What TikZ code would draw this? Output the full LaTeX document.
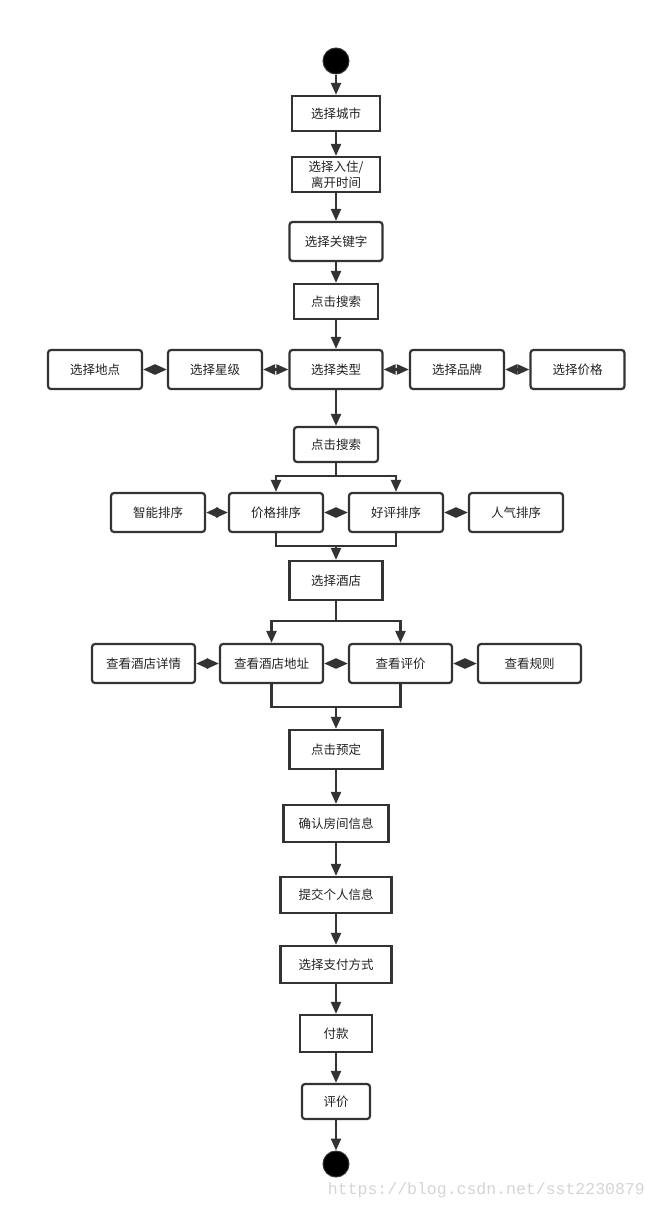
\documentclass[tikz,border=0pt]{standalone}
\usepackage{fontspec}
\newfontfamily\cjk{Noto Sans CJK SC}
\newfontfamily\markfont{Liberation Mono}
\usetikzlibrary{arrows.meta}

\definecolor{line}{HTML}{333333}
\definecolor{ink}{HTML}{222222}
\definecolor{wm}{HTML}{D4D4D4}

\tikzstyle{act}=[rectangle, draw=line, line width=2.2pt, text=ink,
                 font=\cjk\fontsize{12.5}{15}\selectfont, align=center,
                 inner sep=0pt]
\tikzstyle{actr}=[act, rounded corners=3pt]
\tikzstyle{dot}=[circle, fill=black, draw=line, line width=1pt,
                 minimum size=26pt, inner sep=0pt]

\begin{document}
\begin{tikzpicture}[x=1pt, y=-1pt, >={Triangle[length=12pt, width=10pt]}]
  \useasboundingbox (0, 0) rectangle (656, 1210);

  %%%%%%%%%%%%%%%%%%%%%%%%%%%%%%
  %%%%%%%%%%%%%%%%%%%%%%%%%%%%%%
  % booking flow

  %%%%%%%%%%%%%%%%%%%%%%%%%%%%%%
  % nodes
  % search
  \node (start) at (336, 61) [dot] {};

  \node (city) at (336, 113.5) [act, minimum width=88, minimum height=35] {选择城市};

  \node (time) at (336, 174.5) [act, minimum width=88, minimum height=35] {选择入住/\\[0.5pt]离开时间};

  \node (key) at (336, 241.5) [actr, minimum width=93, minimum height=39] {选择关键字};

  \node (search_a) at (336, 301.5) [act, minimum width=84, minimum height=35] {点击搜索};

  % filters
  \node (loc) at (95, 369.5) [actr, minimum width=94, minimum height=39] {选择地点};
  \node (star) at (215, 369.5) [actr, minimum width=94, minimum height=39] {选择星级};
  \node (type) at (336, 369.5) [actr, minimum width=93, minimum height=39] {选择类型};
  \node (brand) at (457, 369.5) [actr, minimum width=94, minimum height=39] {选择品牌};
  \node (price) at (577.5, 369.5) [actr, minimum width=94, minimum height=39] {选择价格};

  \node (search_b) at (336, 444.5) [actr, minimum width=84, minimum height=35] {点击搜索};

  % sorting
  \node (smart) at (158, 512.5) [actr, minimum width=94, minimum height=39] {智能排序};
  \node (psort) at (276, 512.5) [actr, minimum width=94, minimum height=39] {价格排序};
  \node (rate) at (396, 512.5) [actr, minimum width=94, minimum height=39] {好评排序};
  \node (pop) at (516, 512.5) [actr, minimum width=94, minimum height=39] {人气排序};

  \node (hotel) at (336, 580.5) [act, minimum width=93, minimum height=39] {选择酒店};

  % hotel info
  \node (detail) at (143.5, 663.5) [actr, minimum width=103, minimum height=39] {查看酒店详情};
  \node (addr) at (271.5, 663.5) [actr, minimum width=103, minimum height=39] {查看酒店地址};
  \node (review) at (400.5, 663.5) [actr, minimum width=103, minimum height=39] {查看评价};
  \node (rule) at (529.5, 663.5) [actr, minimum width=103, minimum height=39] {查看规则};

  % order
  \node (book) at (336, 749.5) [act, minimum width=93, minimum height=39] {点击预定};

  \node (room) at (336, 823.5) [act, minimum width=105, minimum height=37] {确认房间信息};

  \node (info) at (336, 895) [act, minimum width=111, minimum height=36] {提交个人信息};

  \node (way) at (336, 964.5) [act, minimum width=111, minimum height=37] {选择支付方式};

  \node (pay) at (336, 1033.5) [act, minimum width=72, minimum height=37] {付款};

  \node (comment) at (336, 1101.5) [actr, minimum width=68, minimum height=35] {评价};

  \node (end) at (336, 1164) [dot] {};

  \node (mark) at (645, 1190) [anchor=east, text=wm, font=\markfont\fontsize{16.5}{18}\selectfont, inner sep=0pt] {https://blog.csdn.net/sst2230879};

  %%%%%%%%%%%%%%%%%%%%%%%%%%%%%%
  % forks and joins
  \coordinate (fork_a) at (336, 476);
  \coordinate (join_a) at (336, 546);
  \coordinate (fork_b) at (336, 621);
  \coordinate (join_b) at (336, 707);

  %%%%%%%%%%%%%%%%%%%%%%%%%%%%%%
  % links
  % main line
  \draw [->, line width=2.2, draw=line] (start) to (city);

  \draw [->, line width=2.2, draw=line] (city) to (time);

  \draw [->, line width=2.2, draw=line] (time) to (key);

  \draw [->, line width=2.2, draw=line] (key) to (search_a);

  \draw [->, line width=2.2, draw=line] (search_a) to (type);

  \draw [->, line width=2.2, draw=line] (type) to (search_b);

  % sorting
  \draw [-, line width=2.2, draw=line] (search_b) to (fork_a);
  \draw [->, line width=2.2, draw=line] (fork_a) -| (psort);
  \draw [->, line width=2.2, draw=line] (fork_a) -| (rate);
  \draw [-, line width=2.2, draw=line] (psort) |- (join_a);
  \draw [-, line width=2.2, draw=line] (rate) |- (join_a);
  \draw [->, line width=2.2, draw=line] (join_a) to (hotel);

  % hotel info
  \draw [-, line width=2.2, draw=line] (hotel) to (fork_b);
  \draw [->, line width=2.2, draw=line] (fork_b) -| (addr);
  \draw [->, line width=2.2, draw=line] (fork_b) -| (review);
  \draw [-, line width=2.2, draw=line] (addr) |- (join_b);
  \draw [-, line width=2.2, draw=line] (review) |- (join_b);
  \draw [->, line width=2.2, draw=line] (join_b) to (book);

  % order
  \draw [->, line width=2.2, draw=line] (book) to (room);

  \draw [->, line width=2.2, draw=line] (room) to (info);

  \draw [->, line width=2.2, draw=line] (info) to (way);

  \draw [->, line width=2.2, draw=line] (way) to (pay);

  \draw [->, line width=2.2, draw=line] (pay) to (comment);

  \draw [->, line width=2.2, draw=line] (comment) to (end);

  % side links
  \draw [<->, line width=2.2, draw=line] (loc) to (star);
  \draw [<->, line width=2.2, draw=line] (star) to (type);
  \draw [<->, line width=2.2, draw=line] (type) to (brand);
  \draw [<->, line width=2.2, draw=line] (brand) to (price);

  \draw [<->, line width=2.2, draw=line] (smart) to (psort);
  \draw [<->, line width=2.2, draw=line] (psort) to (rate);
  \draw [<->, line width=2.2, draw=line] (rate) to (pop);

  \draw [<->, line width=2.2, draw=line] (detail) to (addr);
  \draw [<->, line width=2.2, draw=line] (addr) to (review);
  \draw [<->, line width=2.2, draw=line] (review) to (rule);

\end{tikzpicture}
\end{document}
